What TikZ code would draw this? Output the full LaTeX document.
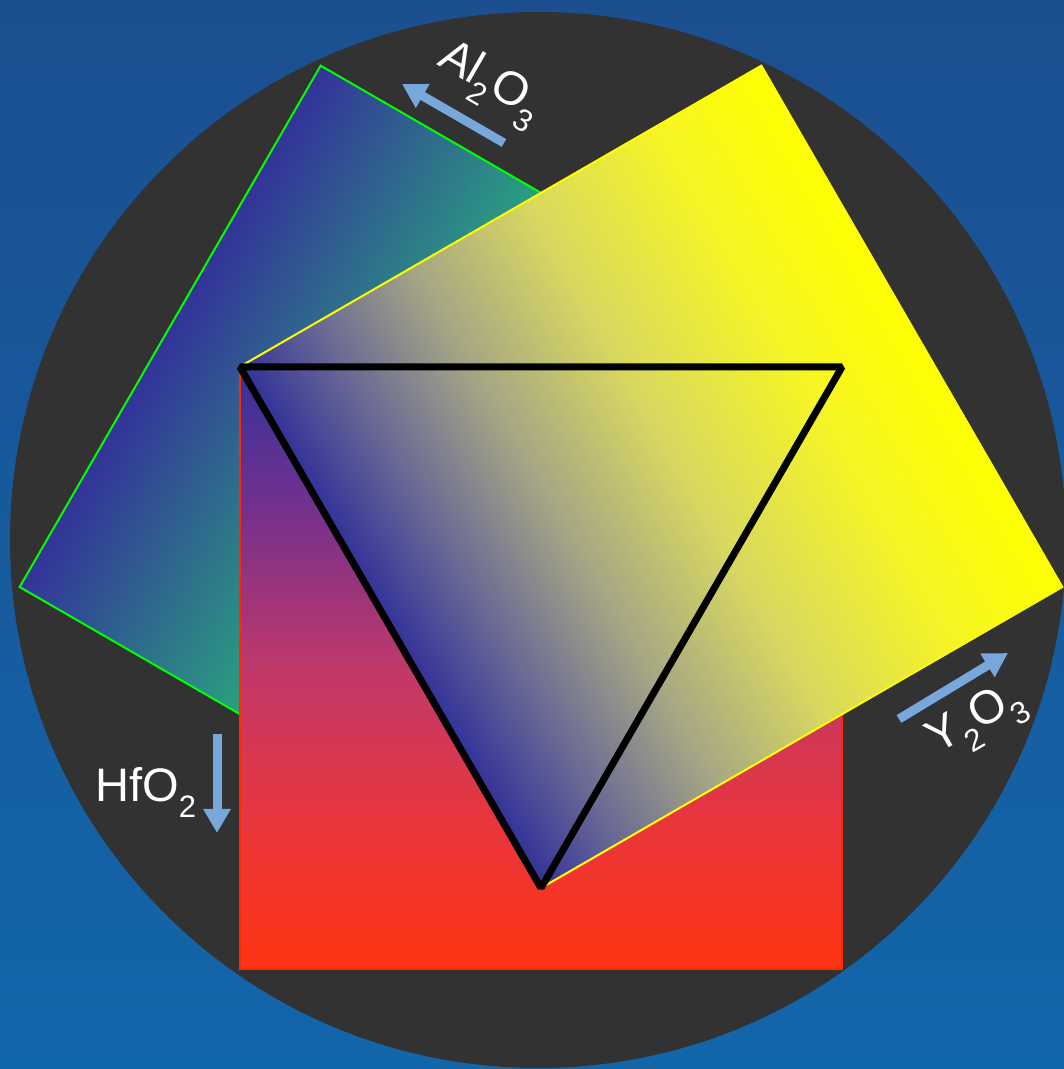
\documentclass[tikz,border=0pt]{standalone}
\usepackage{fontspec}
\setmainfont{Liberation Sans}
\usetikzlibrary{arrows.meta}
\definecolor{bgtop}{HTML}{1B4F90}
\definecolor{bgbot}{HTML}{1266AA}
\definecolor{disc}{HTML}{323232}
\definecolor{sqblue}{HTML}{333399}
\definecolor{sqred}{HTML}{FF3311}
\definecolor{sqyellow}{HTML}{FFFF00}
\definecolor{sqteal}{HTML}{2AA080}
\definecolor{arrowblue}{HTML}{77A7DB}
\definecolor{edgegreen}{HTML}{00FF00}
\definecolor{edgered}{HTML}{FF2A00}
\definecolor{yA}{HTML}{6A6A95}
\definecolor{yB}{HTML}{A5A585}
\definecolor{yC}{HTML}{D8D860}
\definecolor{yD}{HTML}{F5F525}
\definecolor{rA}{HTML}{70308F}
\definecolor{rB}{HTML}{C0386A}
\definecolor{rC}{HTML}{E8363E}
\pgfdeclarehorizontalshading{yellowsh}{100bp}{color(0bp)=(sqblue); color(25bp)=(sqblue); color(32.5bp)=(yA); color(41.5bp)=(yB); color(52.5bp)=(yC); color(65bp)=(yD); color(75bp)=(sqyellow); color(100bp)=(sqyellow)}
\pgfdeclareverticalshading{redsh}{100bp}{color(0bp)=(sqred); color(25bp)=(sqred); color(37.5bp)=(rC); color(50bp)=(rB); color(64bp)=(rA); color(75bp)=(sqblue); color(100bp)=(sqblue)}
\newcommand{\chemsub}[1]{\raisebox{-16pt}{\fontsize{31}{32}\selectfont #1}}
\begin{document}
\begin{tikzpicture}[x=1pt,y=1pt,
  chemarrow/.style={draw=arrowblue,line width=9pt,-{Triangle[length=24pt,width=26pt]}},
  chemlabel/.style={text=white,inner sep=0pt,font=\fontsize{47}{54}\selectfont},
  sqedge/.style={line width=2pt}]
\useasboundingbox (0,0) rectangle (1064,1069);
\shade[top color=bgtop,bottom color=bgbot] (0,0) rectangle (1064,1069);
\fill[disc] (538,529) circle (528);

% green square (on edge BC)
\begin{scope}[transform canvas={shift={(541,181)},rotate=60}]
  \fill[sqteal] (0,0) rectangle (602,350);
  \shade[bottom color=sqteal,top color=sqblue] (0,349) rectangle (602,602);
  \draw[edgegreen,sqedge] (0,0) rectangle (602,602);
\end{scope}

% red square (on edge AB)
\shade[shading=redsh] (240,100) rectangle (842,702);
\draw[edgered,sqedge] (240,100) rectangle (842,702);

% yellow square (on edge AC)
\begin{scope}[transform canvas={shift={(541,181)},rotate=30}]
  \shade[shading=yellowsh] (0,0) rectangle (602,602);
  \draw[sqyellow,sqedge] (0,0) rectangle (602,602);
\end{scope}

% triangle
\coordinate (A) at (240,702);
\coordinate (B) at (842,702);
\coordinate (C) at (541,181);
\draw[black,line width=7pt,line join=bevel] (A) -- (B) -- (C) -- cycle;

% arrows
\coordinate (hfS) at (217,335);
\coordinate (hfE) at (217,236);
\coordinate (alS) at (504,926);
\coordinate (alE) at (402,985);
\coordinate (yS) at (899,350);
\coordinate (yE) at (1008,416);
\draw[chemarrow] (hfS) -- (hfE);
\draw[chemarrow] (alS) -- (alE);
\draw[chemarrow] (yS) -- (yE);

% labels
\node[chemlabel,anchor=base west] (hflabel) at (95,267) {HfO\chemsub{2}};
\node[chemlabel,anchor=base west,rotate=-30] (allabel) at (436,1005) {Al\chemsub{2}O\chemsub{3}};
\node[chemlabel,anchor=base west,rotate=30] (ylabel) at (937,314) {Y\chemsub{2}O\chemsub{3}};
\end{tikzpicture}
\end{document}
